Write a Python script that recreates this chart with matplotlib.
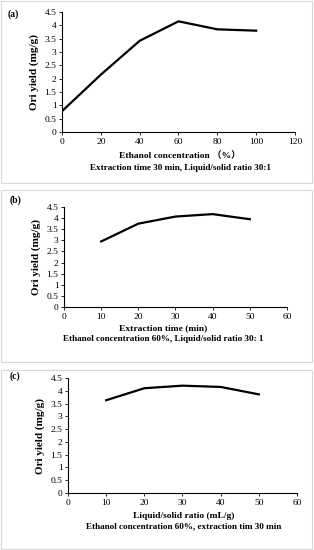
import matplotlib.pyplot as plt
from matplotlib.patches import Rectangle

plt.rcParams['font.family'] = ['Liberation Serif', 'Noto Sans CJK SC', 'DejaVu Serif']

# panel (a)
ethanol = [0, 20, 40, 60, 80, 100]
yield_a = [0.78, 2.15, 3.42, 4.15, 3.85, 3.80]
# panel (b)
time_min = [10, 20, 30, 40, 50]
yield_b = [2.95, 3.75, 4.07, 4.18, 3.95]
# panel (c)
ratio = [10, 20, 30, 40, 50]
yield_c = [3.63, 4.10, 4.20, 4.15, 3.86]

yticks = [0, 0.5, 1, 1.5, 2, 2.5, 3, 3.5, 4, 4.5]
ytick_labels = ['0', '0.5', '1', '1.5', '2', '2.5', '3', '3.5', '4', '4.5']

W, H = 314, 550
fig = plt.figure(figsize=(W / 100, H / 100), dpi=100)


def px_axes(x0, y0, x1, y1):
    # pixel box (top-left origin) -> figure fraction
    return fig.add_axes([x0 / W, 1 - y1 / H, (x1 - x0) / W, (y1 - y0) / H])


def frame(y0, y1):
    fig.patches.append(Rectangle((1 / W, 1 - y1 / H), (W - 3) / W, (y1 - y0) / H,
                                 transform=fig.transFigure, fill=False,
                                 edgecolor='#d8d8d8', linewidth=0.8))


def panel(ax, x, y, xmax, xstep, tag, tag_xy, xlabel, note, cx, lab_y, note_y):
    ax.plot(x, y, color='black', linewidth=1.6)
    ax.set_xlim(0, xmax)
    ax.set_ylim(0, 4.5)
    ax.set_xticks(range(0, xmax + 1, xstep))
    ax.set_yticks(yticks)
    ax.set_yticklabels(ytick_labels)
    for s in ['top', 'right']:
        ax.spines[s].set_visible(False)
    for s in ['left', 'bottom']:
        ax.spines[s].set_linewidth(0.8)
    ax.tick_params(labelsize=6.8, length=2, width=0.6, pad=2)
    ax.set_ylabel('Ori yield (mg/g)', fontsize=8, fontweight='bold', labelpad=4)
    fig.text(tag_xy[0] / W, 1 - tag_xy[1] / H, tag, fontsize=7, fontweight='bold',
             ha='left', va='center')
    fig.text(cx / W, 1 - lab_y / H, xlabel, fontsize=6.8, fontweight='bold',
             ha='center', va='center')
    fig.text(cx / W, 1 - note_y / H, note, fontsize=6.6, fontweight='bold',
             ha='center', va='center')


frame(1, 183)
frame(190, 362)
frame(370, 549)

ax_a = px_axes(62, 12, 295, 132)
panel(ax_a, ethanol, yield_a, 120, 20, '(a)', (8, 14), 'Ethanol concentration （%）',
      'Extraction time 30 min, Liquid/solid ratio 30:1', 180, 156, 168)

ax_b = px_axes(64, 207, 287, 307)
panel(ax_b, time_min, yield_b, 60, 10, '(b)', (10, 200), 'Extraction time (min)',
      'Ethanol concentration 60%, Liquid/solid ratio 30: 1', 163, 328, 339)

ax_c = px_axes(68, 378, 297, 493)
panel(ax_c, ratio, yield_c, 60, 10, '(c)', (10, 376), 'Liquid/solid ratio (mL/g)',
      'Ethanol concentration 60%, extraction tim 30 min', 184, 516, 526)

fig.savefig('out.png', dpi=100)
